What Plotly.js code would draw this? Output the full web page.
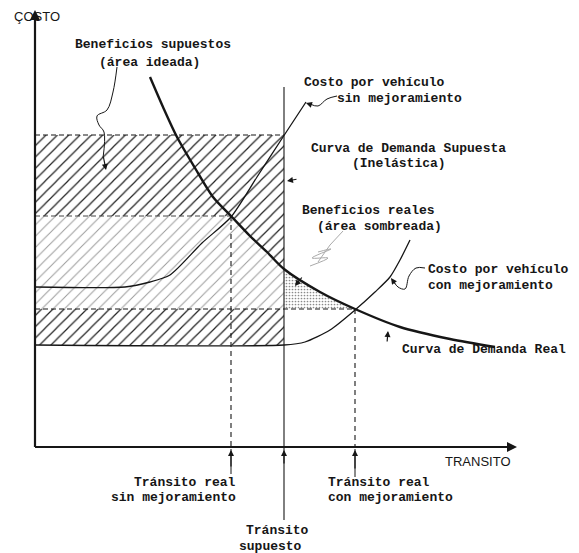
<!DOCTYPE html>
<html><head><meta charset="utf-8">
<script src="https://cdn.plot.ly/plotly-3.0.1.min.js"></script>
<style>body{margin:0;background:#fff}#chart{width:579px;height:553px}</style>
</head><body><div id="chart"></div>
<script>
// ---- Data (diagram units: transit on x, cost on y) ----
const demandRealX = [115,128,142,160,178,196,215,232,249,285,320,365,415,460];
const demandRealY = [370,340,310,279,250,231,211,195,178,155,138,120,108,100];
const costSinX = [0,90,115,135,167,196,222,248,271];
const costSinY = [160,160,165,172,204,230,270,310,345];
const costConX = [0,249,270,295,320,340,355,365,375];
const costConY = [102,102,105,117,137,155,170,187,207];
const transitoSupuesto = 249;
const transitoRealSin = 196;
const transitoRealCon = 320;
const costoSupuesto = 312;
const costoRealSin = 231;
const costoRealCon = 138;
const costoBaseCon = 102;

// pixel helper for text / leader placement (origin of axes at px 35,447)
const P = (px, py) => [px - 35, 447 - py];
const INK = '#161616';
const MONO = 'Liberation Mono, DejaVu Sans Mono, monospace';

function seg(pts, opts) {
  return Object.assign({x: pts.map(p => p[0]), y: pts.map(p => p[1]), mode: 'lines',
    hoverinfo: 'skip', showlegend: false, line: {color: INK, width: 1.2}}, opts || {});
}

// region polygons built from the data
const bandPts = [[0, costoRealSin]];
demandRealX.forEach((x, i) => { if (x >= transitoRealSin && x <= transitoSupuesto) bandPts.push([x, demandRealY[i]]); });
bandPts.push([transitoSupuesto, costoRealCon], [0, costoRealCon]);
const triPts = [];
demandRealX.forEach((x, i) => { if (x >= transitoSupuesto && x <= transitoRealCon) triPts.push([x, demandRealY[i]]); });
triPts.push([transitoSupuesto, costoRealCon]);

const NOLINE = {width: 0, color: 'rgba(0,0,0,0)'};
const traces = [
  // hatched area (beneficios supuestos)
  seg([[0,costoBaseCon],[transitoSupuesto,costoBaseCon],[transitoSupuesto,costoSupuesto],[0,costoSupuesto]],
    {fill: 'toself', fillcolor: 'white', line: NOLINE,
     fillpattern: {shape: '/', size: 8, solidity: 0.15, fgcolor: '#222', bgcolor: 'white'}}),
  // beneficios reales band
  seg(bandPts, {fill: 'toself', fillcolor: 'white', line: NOLINE,
     fillpattern: {shape: '/', size: 8, solidity: 0.12, fgcolor: '#9a9a9a', bgcolor: 'white'}}),
  // stippled triangle
  seg(triPts, {fill: 'toself', fillcolor: 'white', line: NOLINE,
     fillpattern: {shape: '.', size: 3, solidity: 0.25, fgcolor: '#8a8a8a', bgcolor: 'white'}}),
  // dashed horizontals
  seg([[0,costoSupuesto],[transitoSupuesto,costoSupuesto]], {line: {color: INK, width: 1.2, dash: '5px,3px'}}),
  seg([[0,costoRealSin],[transitoRealSin,costoRealSin]], {line: {color: '#444', width: 1, dash: '5px,3px'}}),
  seg([[0,costoRealCon],[transitoRealCon,costoRealCon]], {line: {color: INK, width: 1.1, dash: '5px,3px'}}),
  // dashed verticals
  seg([[transitoRealSin,costoRealSin],[transitoRealSin,0]], {line: {color: INK, width: 1.1, dash: '5px,4px'}}),
  seg([[transitoRealCon,costoRealCon],[transitoRealCon,0]], {line: {color: INK, width: 1.1, dash: '5px,4px'}}),
  // supposed transit vertical (inelastic demand)
  seg([[transitoSupuesto, P(0,87)[1]],[transitoSupuesto, P(0,520)[1]]], {line: {color: INK, width: 1.1}}),
  // leaders below axis
  seg([[transitoRealSin,-2],[transitoRealSin,P(0,474)[1]]], {line: {color: INK, width: 1}}),
  seg([[transitoRealCon,-2],[transitoRealCon,P(0,477)[1]]], {line: {color: INK, width: 1}}),
  // cost curves
  seg(costSinX.map((x,i)=>[x,costSinY[i]]), {line: {color: INK, width: 1.3, shape: 'spline', smoothing: 0.7}}),
  seg(costConX.map((x,i)=>[x,costConY[i]]), {line: {color: INK, width: 1.3, shape: 'spline', smoothing: 0.7}}),
  // real demand curve
  seg(demandRealX.map((x,i)=>[x,demandRealY[i]]), {line: {color: INK, width: 2.4, shape: 'spline', smoothing: 0.8}}),
  // axes
  seg([[0,0],[0,P(0,14)[1]]], {line: {color: INK, width: 2.2}}),
  seg([[0,0],[P(513,0)[0],0]], {line: {color: INK, width: 2.2}}),
  // wiggly leaders
  seg([P(117,67),P(113,92),P(107,110),P(97,116),P(99,125),P(104,132),P(103,158)], {line: {color: INK, width: 1, shape: 'spline'}}),
  seg([P(337,96),P(327,99),P(318,106),P(310,104)], {line: {color: INK, width: 1, shape: 'spline'}}),
  seg([P(425,268),P(416,268),P(409,276),P(405,289),P(398,287),P(394,282)], {line: {color: INK, width: 1, shape: 'spline'}}),
  seg([P(343,231),P(330,245),P(318,262)], {line: {color: '#aaa', width: 1}}),
  seg([P(318,252),P(331,249),P(312,258),P(328,258),P(310,266)], {line: {color: '#aaa', width: 1, shape: 'spline'}}),
];

function txt(text, px, py, xanchor, opts) {
  const [x, y] = P(px, py);
  return Object.assign({x, y, xref: 'x', yref: 'y', text, showarrow: false, xanchor: xanchor || 'left', yanchor: 'middle',
    font: {family: MONO, size: 13, color: INK, weight: 'bold'}}, opts || {});
}
function arr(fromPx, fromPy, toPx, toPy, w) {
  const [x, y] = P(toPx, toPy), [ax, ay] = P(fromPx, fromPy);
  return {x, y, ax, ay, xref: 'x', yref: 'y', axref: 'x', ayref: 'y', text: '', showarrow: true,
    arrowhead: 2, arrowsize: 1, arrowwidth: w || 1.2, arrowcolor: INK, standoff: 0};
}
const SANS = {family: 'Liberation Sans, Arial, sans-serif', size: 13, color: INK};

const annotations = [
  txt('ÇOSTO', 12, 16, 'left', {font: SANS}),
  txt('TRANSITO', 443, 461, 'left', {font: SANS}),
  txt('Beneficios supuestos', 73, 44),
  txt('(área ideada)', 97, 62),
  txt('Costo por vehículo', 302, 82),
  txt('sin mejoramiento', 335, 98),
  txt('Curva de Demanda Supuesta', 309, 148),
  txt('(Inelástica)', 350, 163),
  txt('Beneficios reales', 300, 210),
  txt('(área sombreada)', 315, 226),
  txt('Costo por vehículo', 426, 269),
  txt('con mejoramiento', 426, 285),
  txt('Curva de Demanda Real', 400, 349),
  txt('Tránsito real', 238, 482, 'right'),
  txt('sin mejoramiento', 238, 497, 'right'),
  txt('Tránsito', 244, 530),
  txt('supuesto', 237, 546),
  txt('Tránsito real', 326, 482),
  txt('con mejoramiento', 326, 497),
  // arrows
  arr(35, 30, 35, 10, 2),
  arr(500, 447, 517, 447, 2),
  arr(103, 155, 106, 170),
  arr(312, 105, 306, 103),
  arr(298, 179, 287, 181),
  arr(396, 285, 391, 278),
  arr(387, 343, 388, 331),
  arr(303, 276, 295, 286),
  arr(231, 468, 231, 450),
  arr(284, 465, 284, 450),
  arr(355, 470, 355, 450),
];

const layout = {
  width: 579, height: 553, margin: {l: 0, r: 0, t: 0, b: 0},
  paper_bgcolor: 'white', plot_bgcolor: 'white', showlegend: false,
  xaxis: {range: [-35, 544], visible: false, fixedrange: true},
  yaxis: {range: [-106, 447], visible: false, fixedrange: true},
  annotations
};
Plotly.newPlot('chart', traces, layout, {staticPlot: true});
</script></body></html>
